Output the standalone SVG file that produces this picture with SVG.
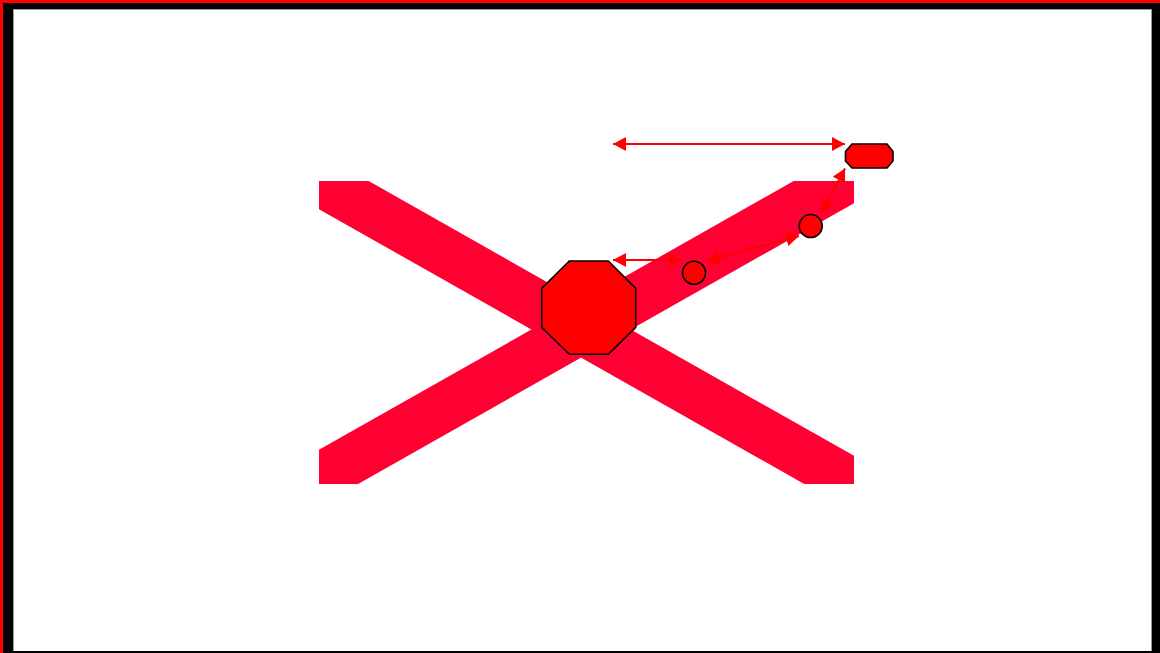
<svg xmlns="http://www.w3.org/2000/svg" width="1160" height="653" viewBox="0 0 1160 653">
  <style>
    .band { stroke: #FF0033; stroke-width: 49; fill: none; }
    .node { fill: #FF0000; stroke: #000000; stroke-width: 1.6; }
    .conn { stroke: #FF0000; stroke-width: 2; fill: none; marker-start: url(#ah); marker-end: url(#ah); }
  </style>
  <defs>
    <marker id="ah" markerUnits="userSpaceOnUse" markerWidth="14" markerHeight="14" refX="13" refY="7" orient="auto-start-reverse">
      <path d="M0,0 L13,7 L0,14 Z" fill="#FF0000"/>
    </marker>
    <clipPath id="flagclip">
      <rect x="319" y="181" width="535" height="303"/>
    </clipPath>
  </defs>
  <rect x="0" y="0" width="1160" height="653" fill="#FF0000"/>
  <rect x="3" y="3" width="1157" height="650" fill="#000000"/>
  <rect x="13" y="9" width="1139" height="642" fill="#999999"/>
  <rect x="14" y="10" width="1137" height="641" fill="#FFFFFF"/>

  <g id="saltire" clip-path="url(#flagclip)">
    <line class="band" x1="290" y1="164.6" x2="884" y2="501"/>
    <line class="band" x1="290" y1="494.4" x2="884" y2="158"/>
  </g>

  <g id="connectors">
    <line class="conn" x1="613" y1="144" x2="845" y2="144"/>
    <line class="conn" x1="845" y1="168.5" x2="821.5" y2="213"/>
    <line class="conn" x1="799" y1="236" x2="706" y2="261"/>
    <line class="conn" x1="613" y1="260" x2="682" y2="260"/>
  </g>

  <g id="node-octagon">
    <polygon class="node" points="569.3,261 608.3,261 635.7,288.4 635.7,327.4 608.3,354.3 569.3,354.3 541.7,327.4 541.7,288.4"/>
  </g>
  <g id="node-small-octagon">
    <polygon class="node" points="852,144 887,144 893,151.5 893,161 887,168 852,168 845.5,161 845.5,151.5"/>
  </g>
  <g id="node-circle-1">
    <circle class="node" cx="810.7" cy="226" r="11.5"/>
  </g>
  <g id="node-circle-2">
    <circle class="node" cx="694" cy="272.7" r="11.5"/>
  </g>
</svg>
